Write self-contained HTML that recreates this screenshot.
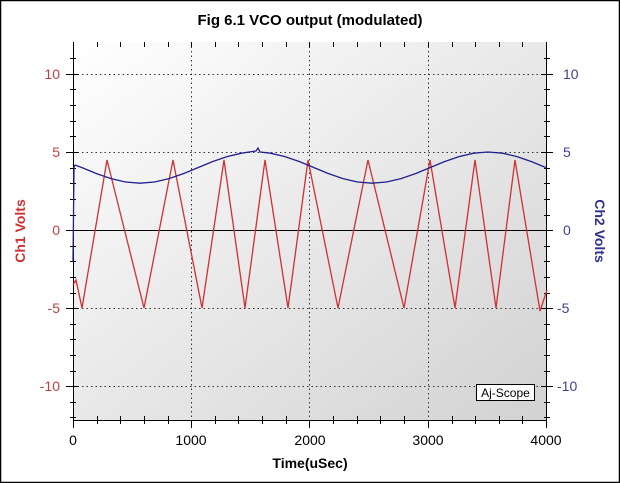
<!DOCTYPE html>
<html><head><meta charset="utf-8"><style>body{margin:0;background:#fff}svg{display:block}</style></head><body>
<svg width="620" height="483" xmlns="http://www.w3.org/2000/svg" font-family="Liberation Sans, sans-serif">
<defs><linearGradient id="g" x1="0" y1="0" x2="1" y2="1"><stop offset="0" stop-color="#ffffff"/><stop offset="1" stop-color="#d2d2d2"/></linearGradient></defs>
<rect x="0.5" y="0.5" width="619" height="482" fill="#fff" stroke="#000" stroke-width="1.5"/>
<text x="310" y="25" font-size="15" font-weight="bold" text-anchor="middle">Fig 6.1 VCO output (modulated)</text>
<rect x="73" y="42" width="474" height="378" fill="url(#g)"/>
<g stroke="#333" stroke-width="1" stroke-dasharray="1.5,3">
<line x1="191.5" y1="42" x2="191.5" y2="420"/><line x1="309.5" y1="42" x2="309.5" y2="420"/><line x1="428.5" y1="42" x2="428.5" y2="420"/>
<line x1="73" y1="74.5" x2="547" y2="74.5"/><line x1="73" y1="152.5" x2="547" y2="152.5"/><line x1="73" y1="308.5" x2="547" y2="308.5"/><line x1="73" y1="386.5" x2="547" y2="386.5"/>
</g>
<line x1="73" y1="230.5" x2="547" y2="230.5" stroke="#000"/>
<g stroke="#000" stroke-width="1">
<line x1="73.5" y1="42" x2="73.5" y2="421"/><line x1="546.5" y1="42" x2="546.5" y2="421"/><line x1="73" y1="420.5" x2="547" y2="420.5"/>
<path d="M66 74.5h12M66 152.5h12M66 230.5h12M66 308.5h12M66 386.5h12M541 74.5h12M541 152.5h12M541 230.5h12M541 308.5h12M541 386.5h12
M70 58.5h6M70 89.5h6M70 105.5h6M70 121.5h6M70 136.5h6M70 168.5h6M70 183.5h6M70 199.5h6M70 215.5h6M70 246.5h6M70 261.5h6M70 277.5h6M70 293.5h6M70 324.5h6M70 339.5h6M70 355.5h6M70 371.5h6M70 402.5h6M70 417.5h6
M544 58.5h6M544 89.5h6M544 105.5h6M544 121.5h6M544 136.5h6M544 168.5h6M544 183.5h6M544 199.5h6M544 215.5h6M544 246.5h6M544 261.5h6M544 277.5h6M544 293.5h6M544 324.5h6M544 339.5h6M544 355.5h6M544 371.5h6M544 402.5h6M544 417.5h6
M73.5 420v8M191.5 420v8M309.5 420v8M428.5 420v8M546.5 420v8
M97.5 416v8M120.5 416v8M144.5 416v8M168.5 416v8M215.5 416v8M238.5 416v8M262.5 416v8M286.5 416v8M333.5 416v8M357.5 416v8M380.5 416v8M404.5 416v8M452.5 416v8M475.5 416v8M499.5 416v8M522.5 416v8
M97.5 42v5M120.5 42v5M144.5 42v5M168.5 42v5M191.5 42v5M215.5 42v5M238.5 42v5M262.5 42v5M286.5 42v5M309.5 42v5M333.5 42v5M357.5 42v5M380.5 42v5M404.5 42v5M428.5 42v5M452.5 42v5M475.5 42v5M499.5 42v5M522.5 42v5"/>
</g>
<polyline fill="none" stroke="#d03030" stroke-width="1.3" points="73,285 76,280 82,308 107,160 144,308 173,160 202,308 224,160 245,308 265,160 288,308 308,160 338,308 368,160 404,308 430,160 455,308 475,160 496,308 515,160 540,311 547,290"/>
<polyline fill="none" stroke="#202090" stroke-width="1.3" points="73,262 74,167 75,165 82,167.6 96.5,173.6 111,178.6 125.5,182 140,183.2 154.5,182 169,178.6 183.5,173.6 198,167.6 212.5,161.6 227,156.6 241.5,153.2 256,151 258,148 260,152 270.5,153.2 285,156.6 299.5,161.6 314,167.6 328.5,173.6 343,178.6 357.5,182 372,183.2 386.5,182 401,178.6 415.5,173.6 430,167.6 444.5,161.6 459,156.6 473.5,153.2 488,152 502.5,153.2 517,156.6 531.5,161.6 546,167.6"/>
<g font-size="14" fill="#c04040" text-anchor="end"><text x="60" y="79">10</text><text x="60" y="157">5</text><text x="60" y="235">0</text><text x="60" y="313">-5</text><text x="60" y="391">-10</text></g>
<g font-size="14" fill="#404090" text-anchor="start"><text x="563" y="79">10</text><text x="563" y="157">5</text><text x="563" y="235">0</text><text x="557" y="313">-5</text><text x="557" y="391">-10</text></g>
<g font-size="14" fill="#000" text-anchor="middle"><text x="73" y="445">0</text><text x="191" y="445">1000</text><text x="310" y="445">2000</text><text x="428" y="445">3000</text><text x="546" y="445">4000</text></g>
<text x="310" y="468" font-size="14" font-weight="bold" text-anchor="middle">Time(uSec)</text>
<text transform="translate(25,231) rotate(-90)" font-size="14" font-weight="bold" fill="#d03030" text-anchor="middle">Ch1 Volts</text>
<text transform="translate(595,231) rotate(90)" font-size="14" font-weight="bold" fill="#303090" text-anchor="middle">Ch2 Volts</text>
<rect x="476.5" y="384.5" width="58" height="16" fill="#fff" stroke="#000"/>
<text x="505.5" y="397" font-size="12" text-anchor="middle">Aj-Scope</text>
</svg>
</body></html>
